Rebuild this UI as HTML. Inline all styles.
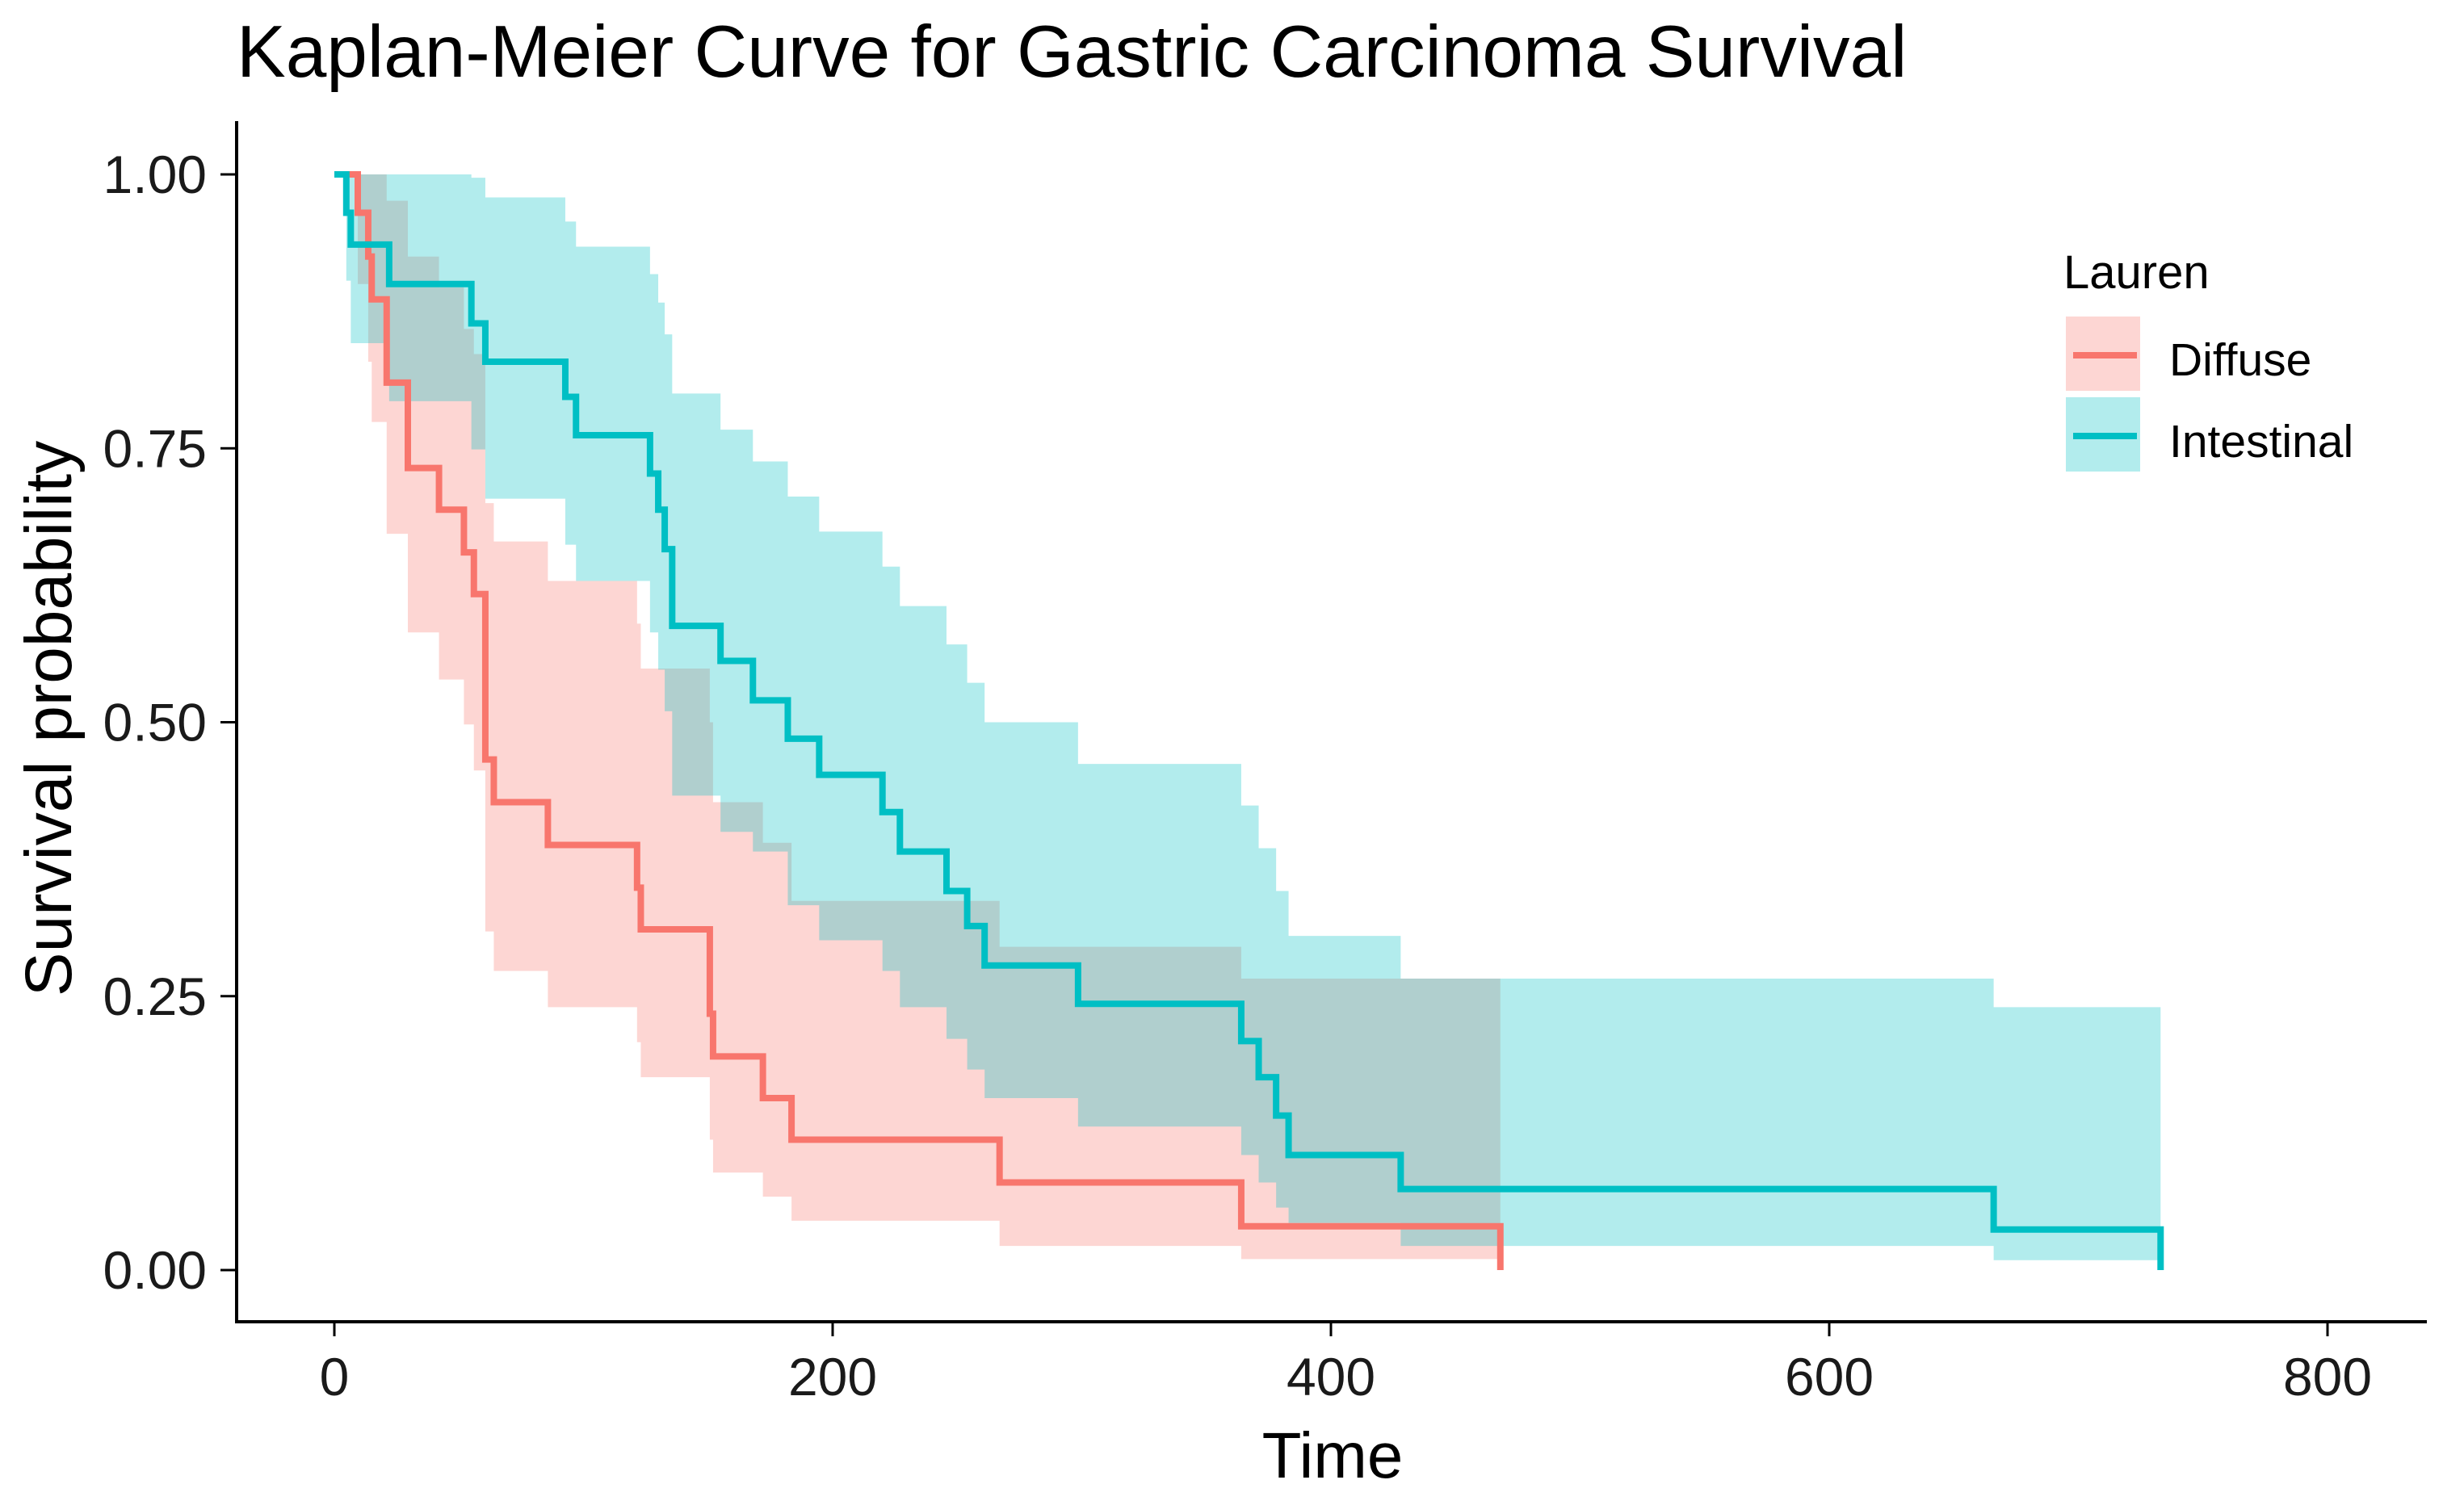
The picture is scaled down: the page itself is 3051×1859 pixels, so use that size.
<!DOCTYPE html>
<html><head><meta charset="utf-8"><style>
html,body{margin:0;padding:0;background:#fff;}
svg{display:block;font-family:"Liberation Sans",Arial,sans-serif;}
</style></head><body>
<svg id="chart" width="3051" height="1859" viewBox="0 0 3051 1859">
<text x="293" y="95" font-size="91" fill="#000">Kaplan-Meier Curve for Gastric Carcinoma Survival</text>
<g id="bands"></g>
<g id="lines"></g>
<line x1="293" y1="150" x2="293" y2="1639" stroke="#000" stroke-width="4"/>
<line x1="291" y1="1637" x2="3005" y2="1637" stroke="#000" stroke-width="4"/>
<g id="yticks"></g>
<g id="xticks"></g>
<text x="1650" y="1830" font-size="80" text-anchor="middle" fill="#000">Time</text>
<text transform="translate(88,890) rotate(-90)" font-size="82" text-anchor="middle" fill="#000">Survival probability</text>
<g>
<text x="2555" y="357" font-size="58" fill="#000">Lauren</text>
<g>
<rect x="2558" y="392" width="92" height="92" fill="#F8766D" fill-opacity="0.3"/>
<line x1="2567" y1="440" x2="2646" y2="440" stroke="#F8766D" stroke-width="8"/>
<text x="2686" y="465" font-size="57" fill="#000">Diffuse</text>
</g>
<g>
<rect x="2558" y="492" width="92" height="92" fill="#00BFC4" fill-opacity="0.3"/>
<line x1="2567" y1="540" x2="2646" y2="540" stroke="#00BFC4" stroke-width="8"/>
<text x="2686" y="566" font-size="57" fill="#000">Intestinal</text>
</g>
</g>
</svg>
<script>
const dT = [0, 9.4, 13.6, 15, 21, 29.5, 42, 52, 56, 60.6, 64, 85.7, 121.5, 123, 150.7, 152, 172, 183.5, 267, 364, 468];
const dS = [1, .965, .925, .886, .81, .732, .694, .655, .617, .466, .427, .388, .349, .311, .234, .195, .157, .119, .080, .040, 0];
const dU = [1, 1, 1, 1, .976, .925, .897, .859, .836, .70, .665, .629, .59, .549, .50, .427, .39, .337, .295, .266, 0];
const dL = [1, .90, .829, .774, .672, .582, .539, .498, .456, .309, .273, .240, .208, .176, .119, .089, .067, .045, .022, .01, 0];
const iT = [0, 4.8, 6.6, 22, 55, 60.6, 92.7, 97, 126.7, 130, 132.6, 135.6, 155, 168, 182, 194.6, 220, 227, 245.7, 254, 261, 298.5, 364, 371, 378, 383, 428, 666, 733];
const iS = [1, .965, .936, .90, .864, .829, .797, .762, .727, .694, .658, .588, .556, .52, .485, .452, .418, .382, .346, .314, .278, .243, .209, .176, .141, .105, .074, .037, 0];
const iU = [1, 1, 1, 1, .997, .979, .957, .934, .909, .883, .854, .80, .767, .738, .706, .674, .642, .606, .571, .536, .50, .462, .424, .385, .346, .305, .266, .24, 0];
const iL = [1, .903, .846, .793, .749, .704, .662, .629, .582, .548, .51, .433, .40, .382, .333, .301, .273, .24, .211, .183, .157, .131, .105, .080, .057, .043, .022, .009, 0];
const xTicks = [0, 200, 400, 600, 800];
const yTicks = [0, 0.25, 0.5, 0.75, 1];
const yTickLabels = ["0.00", "0.25", "0.50", "0.75", "1.00"];

const NS = "http://www.w3.org/2000/svg";
function xs(t){ return 414 + t * (2882 - 414) / 800; }
function ys(s){ return 1573 - s * (1573 - 216); }

function drawGroup(T, S, U, L, color, name){
  const bands = document.getElementById('bands');
  let top = [], bot = [];
  for (let i = 0; i < T.length - 1; i++){
    top.push(xs(T[i]) + ',' + ys(U[i]), xs(T[i+1]) + ',' + ys(U[i]));
    bot.push(xs(T[i]) + ',' + ys(L[i]), xs(T[i+1]) + ',' + ys(L[i]));
  }
  const poly = document.createElementNS(NS, 'polygon');
  poly.setAttribute('points', top.concat(bot.reverse()).join(' '));
  poly.setAttribute('fill', color);
  poly.setAttribute('fill-opacity', '0.3');
  
  
  bands.appendChild(poly);
  let d = 'M' + xs(T[0]) + ',' + ys(S[0]);
  for (let i = 1; i < T.length; i++){
    d += ' H' + xs(T[i]) + ' V' + ys(S[i]);
  }
  const p = document.createElementNS(NS, 'path');
  p.setAttribute('d', d);
  p.setAttribute('fill', 'none');
  p.setAttribute('stroke', color);
  p.setAttribute('stroke-width', '8');
  
  
  document.getElementById('lines').appendChild(p);
}
drawGroup(dT, dS, dU, dL, '#F8766D', 'diffuse');
drawGroup(iT, iS, iU, iL, '#00BFC4', 'intestinal');

const yg = document.getElementById('yticks');
yTicks.forEach((v, i) => {
  const l = document.createElementNS(NS, 'line');
  l.setAttribute('x1', 273); l.setAttribute('x2', 293);
  l.setAttribute('y1', ys(v)); l.setAttribute('y2', ys(v));
  l.setAttribute('stroke', '#000'); l.setAttribute('stroke-width', '3');
  
  
  yg.appendChild(l);
  const t = document.createElementNS(NS, 'text');
  t.setAttribute('x', 256); t.setAttribute('y', ys(v) + 23);
  t.setAttribute('font-size', '66'); t.setAttribute('text-anchor', 'end');
  t.setAttribute('fill', '#1a1a1a');
  t.textContent = yTickLabels[i];
  
  
  yg.appendChild(t);
});
const xg = document.getElementById('xticks');
xTicks.forEach(v => {
  const l = document.createElementNS(NS, 'line');
  l.setAttribute('x1', xs(v)); l.setAttribute('x2', xs(v));
  l.setAttribute('y1', 1637); l.setAttribute('y2', 1655);
  l.setAttribute('stroke', '#000'); l.setAttribute('stroke-width', '3');
  
  
  xg.appendChild(l);
  const t = document.createElementNS(NS, 'text');
  t.setAttribute('x', xs(v)); t.setAttribute('y', 1728);
  t.setAttribute('font-size', '66'); t.setAttribute('text-anchor', 'middle');
  t.setAttribute('fill', '#1a1a1a');
  t.textContent = String(v);
  
  
  xg.appendChild(t);
});
</script>
</body></html>
